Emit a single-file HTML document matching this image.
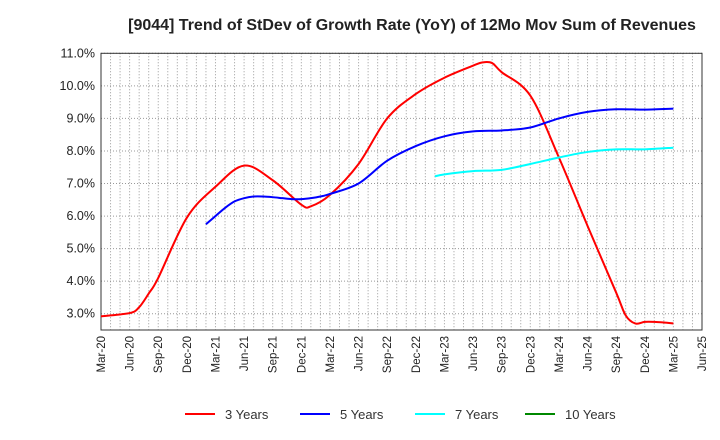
<!DOCTYPE html>
<html><head><meta charset="utf-8"><style>
body{margin:0;background:#fff;}
svg{display:block;font-family:"Liberation Sans",sans-serif;}
</style></head><body>
<svg id="chart" width="720" height="440">
<text x="412" y="30" text-anchor="middle" font-size="16" font-weight="bold" fill="#222">[9044]  Trend of StDev of Growth Rate (YoY) of 12Mo Mov Sum of Revenues</text>
</svg>
<script>
const xLabels=["Mar-20","Jun-20","Sep-20","Dec-20","Mar-21","Jun-21","Sep-21","Dec-21","Mar-22","Jun-22","Sep-22","Dec-22","Mar-23","Jun-23","Sep-23","Dec-23","Mar-24","Jun-24","Sep-24","Dec-24","Mar-25","Jun-25"];
const yTicks=[3,4,5,6,7,8,9,10,11];
const m3=[0,3,4,5,6,9,12,15,18,21,22,24,27,30,33,36,39,40,41,42,45,48,51,54,55,56,57,58,59,60];
const v3=[2.92,3.02,3.2,3.62,4.1,5.95,6.9,7.55,7.1,6.35,6.3,6.65,7.6,9.0,9.75,10.25,10.62,10.72,10.7,10.42,9.7,7.8,5.7,3.65,2.95,2.7,2.75,2.75,2.73,2.7];
const m5=[11,12,13,14,15,16,17,18,19,20,21,22,23,24,27,30,33,36,39,42,45,48,51,54,57,60];
const v5=[5.75,6.0,6.25,6.45,6.55,6.6,6.6,6.58,6.55,6.52,6.52,6.55,6.6,6.68,7.0,7.7,8.15,8.45,8.6,8.63,8.72,9.0,9.2,9.28,9.27,9.3];
const m7=[35,36,39,42,45,48,51,54,57,60];
const v7=[7.22,7.28,7.38,7.42,7.6,7.8,7.97,8.05,8.05,8.1];
const m10=[];const v10=[];
const L=101,R=702,T=53.3,B=330,yMin=2.5,yMax=11,nMonths=63;
const xs=i=>L+(R-L)*i/nMonths;
const ys=v=>B-(B-T)*(v-yMin)/(yMax-yMin);
const svg=document.getElementById('chart');
const NS='http://www.w3.org/2000/svg';
function mk(t,a){const e=document.createElementNS(NS,t);for(const k in a)e.setAttribute(k,a[k]);svg.appendChild(e);return e;}
for(let i=1;i<nMonths;i++){const g=mk('line',{x1:xs(i),x2:xs(i),y1:T,y2:B,stroke:'#999','stroke-dasharray':'1,2','stroke-width':1});

}
yTicks.forEach(v=>{const g=mk('line',{x1:L,x2:R,y1:ys(v),y2:ys(v),stroke:'#999','stroke-dasharray':'1,2'});


const t=mk('text',{x:L-6,y:ys(v)+4,'text-anchor':'end','font-size':12.5,fill:'#222'});t.textContent=v.toFixed(1)+'%';

});
const fr=mk('rect',{x:L,y:T,width:R-L,height:B-T,fill:'none',stroke:'#333'});


xLabels.forEach((s,k)=>{const x=xs(k*3);const t=mk('text',{transform:`translate(${x+4},${B+6}) rotate(-90)`,'text-anchor':'end','font-size':11.5,fill:'#222'});t.textContent=s;

});
function path(ms,vs){if(!ms.length)return '';const p=ms.map((m,i)=>[xs(m),ys(vs[i])]);let d=`M${p[0][0]},${p[0][1]}`;
for(let i=0;i<p.length-1;i++){const p0=p[i-1]||p[i],p1=p[i],p2=p[i+1],p3=p[i+2]||p2;
d+=` C${p1[0]+(p2[0]-p0[0])/6},${p1[1]+(p2[1]-p0[1])/6} ${p2[0]-(p3[0]-p1[0])/6},${p2[1]-(p3[1]-p1[1])/6} ${p2[0]},${p2[1]}`;}return d;}
[[m3,v3,'#f00','series-3-years'],[m5,v5,'#00f','series-5-years'],[m7,v7,'#0ff','series-7-years'],[m10,v10,'#080','series-10-years']].forEach(s=>{
if(!s[0].length)return;const e=mk('path',{d:path(s[0],s[1]),fill:'none',stroke:s[2],'stroke-width':2});

});
[['3 Years','#f00',185],['5 Years','#00f',300],['7 Years','#0ff',415],['10 Years','#080',525]].forEach(l=>{
const ln=mk('line',{x1:l[2],x2:l[2]+30,y1:414,y2:414,stroke:l[1],'stroke-width':2});


const t=mk('text',{x:l[2]+40,y:419,'font-size':13,fill:'#333'});t.textContent=l[0];

});
</script>
</body></html>
